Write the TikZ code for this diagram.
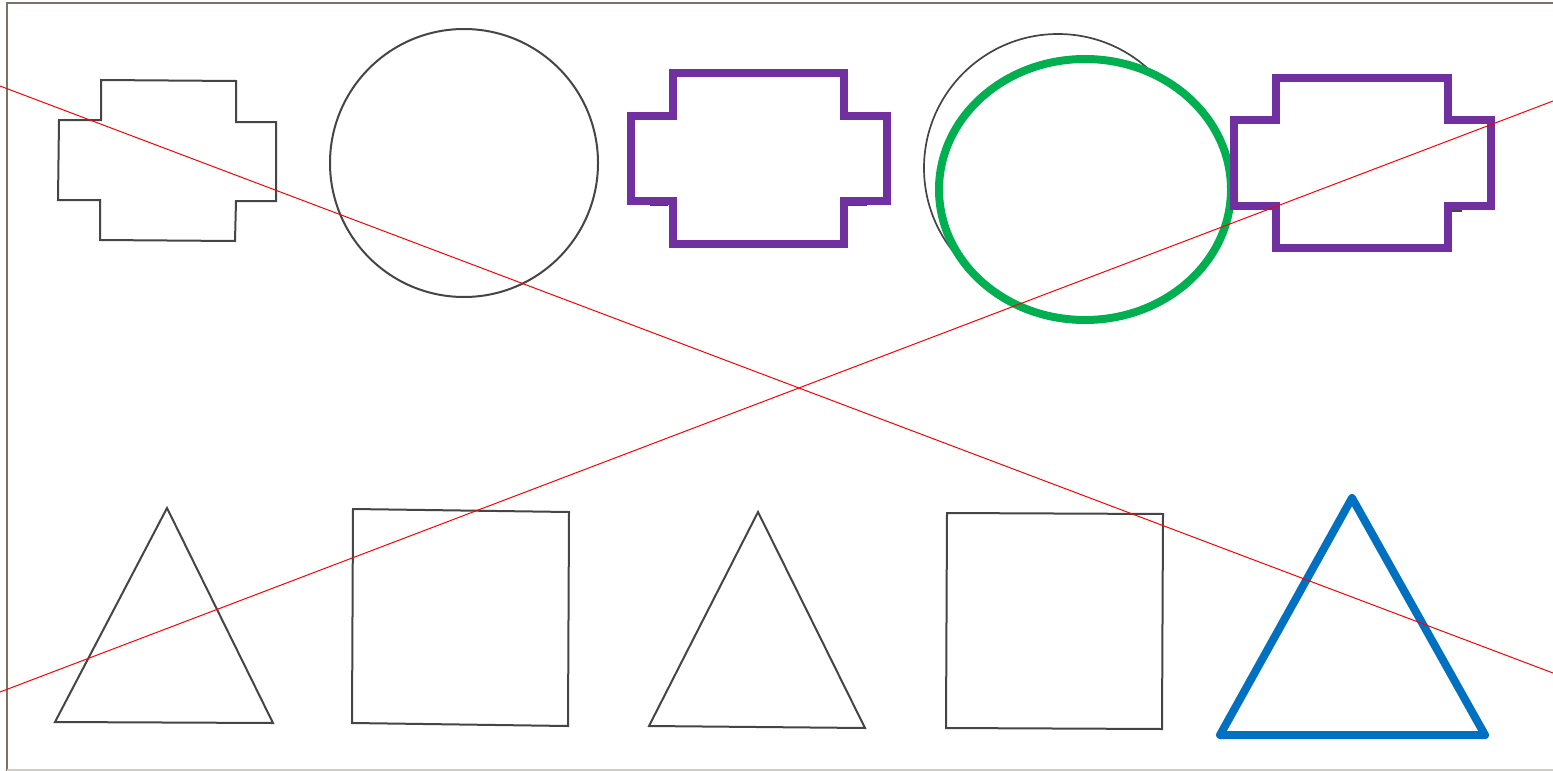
\documentclass[tikz,border=0pt]{standalone}
\usepackage{xcolor}
\definecolor{framec}{HTML}{7A7262}
\definecolor{framelight}{HTML}{CFCDC4}
\definecolor{pencil}{HTML}{454545}
\definecolor{purp}{HTML}{7030A0}
\definecolor{grn}{HTML}{00B050}
\definecolor{blu}{HTML}{0070C0}
\begin{document}
\begin{tikzpicture}[x=1pt,y=-1pt,
  pencilline/.style={draw=pencil,line width=2pt,line join=miter},
  boldpurple/.style={draw=purp,line width=8pt,line join=miter,fill=white},
  boldgreen/.style={draw=grn,line width=8pt,fill=white},
  boldblue/.style={draw=blu,line width=8pt,line join=round,line cap=round},
  redline/.style={draw=red,line width=1pt}]
\useasboundingbox (0,0) rectangle (1553,771);
\fill[white] (0,0) rectangle (1553,771);
% frame
\draw[framec,line width=2pt] (7,771) -- (7,3) -- (1553,3);
\draw[framelight,line width=2pt] (7,770) -- (1553,770);
% top row: pencil cross and circle
\draw[pencilline] (101,80) -- (236,81) -- (236,122) -- (276,122) -- (276,201) -- (236,201) -- (235,241) -- (100,240) -- (100,200) -- (58,200) -- (59,120) -- (101,120) -- cycle;
\draw[pencilline] (464,163) circle[radius=134];
% faint pencil remnants under purple crosses
\draw[pencilline,line width=1.2pt] (650,205) -- (668,205);
\draw[pencilline,line width=1.2pt] (848,205) -- (867,205);
\draw[pencilline,line width=1.2pt] (1452,211) -- (1462,211);
% pencil circle behind green ellipse
\draw[pencilline,line width=1.7pt] (1058,168) circle[radius=134];
\draw[boldgreen] (1085,189.5) ellipse[x radius=146,y radius=130.5];
% purple crosses
\draw[boldpurple] (673,72.5) -- (844,72.5) -- (844,115.5) -- (887,115.5) -- (887,201) -- (844,201) -- (844,244) -- (673,244) -- (673,201) -- (630.5,201) -- (630.5,115.5) -- (673,115.5) -- cycle;
\draw[boldpurple] (1276,78) -- (1447.5,78) -- (1447.5,120) -- (1490.5,120) -- (1490.5,206) -- (1447.5,206) -- (1447.5,248) -- (1276,248) -- (1276,206) -- (1233.5,206) -- (1233.5,120) -- (1276,120) -- cycle;
% bottom row
\draw[pencilline] (167,508) -- (273,723) -- (55,722) -- cycle;
\draw[pencilline] (353,509) -- (569,512) -- (568,726) -- (352,723) -- cycle;
\draw[pencilline] (758,512) -- (865,728) -- (649,726) -- cycle;
\draw[pencilline] (947,513) -- (1163,514) -- (1162,729) -- (946,728) -- cycle;
\draw[boldblue] (1352,498) -- (1485,735) -- (1220,735) -- cycle;
% red crossing lines
\coordinate (r1a) at (0,86);
\coordinate (r1b) at (1553,673);
\coordinate (r2a) at (0,692);
\coordinate (r2b) at (1553,101);
\draw[redline] (r1a) -- (r1b);
\draw[redline] (r2a) -- (r2b);
\end{tikzpicture}
\end{document}
